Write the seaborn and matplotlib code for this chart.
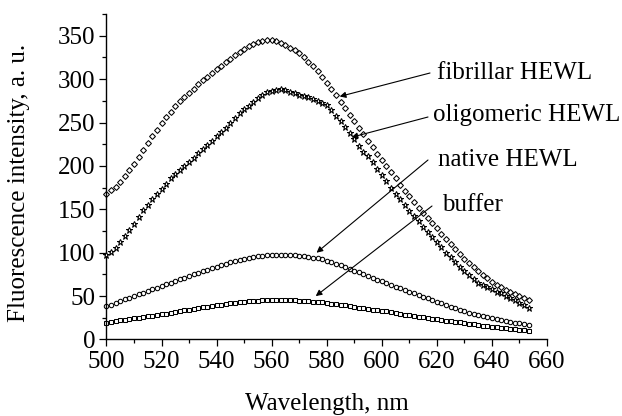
import numpy as np
import pandas as pd
import matplotlib
matplotlib.use("Agg")
import matplotlib.pyplot as plt
import seaborn as sns
from matplotlib.ticker import MultipleLocator

# wavelength grid of the spectra (nm)
start_nm = 500.0
step_nm = 5.0 / 3.0

fibrillar = [168, 172, 176, 181, 188, 195, 202, 210, 218, 226.5, 234, 241.5,
             249, 256, 262.5, 269, 274.5, 279.5, 284.5, 289, 294, 298.5, 303, 307.5,
             311.6, 315.5, 319.5, 323.5, 327.5, 331, 334.7, 337.8, 340.5, 342.8, 344.3, 345.2,
             345.2, 344, 341.8, 339, 336, 333, 329.7, 325, 320, 315, 309, 302.5,
             296, 289, 281.5, 274, 266.5, 259, 251.5, 244, 236.5, 229, 221.5, 214,
             206.8, 199.5, 192.5, 185.5, 178.5, 171.5, 165, 158.5, 152, 146, 140, 134,
             128, 122, 116, 110.5, 104.5, 98.5, 93, 88, 83.3, 78.7, 74.5, 70.5,
             66.5, 63.3, 60.3, 57.5, 55, 52.8, 50.5, 48, 45.5]

oligomeric = [97, 101, 105.5, 112.5, 119, 126, 133, 141, 149, 155.5, 162, 168,
              173.5, 179.5, 185.5, 190.5, 195.5, 200, 205, 209.3, 214.5, 219.8, 224.5, 229,
              234, 238.7, 243.7, 249.5, 255, 260.5, 265.5, 269.5, 274, 278, 282, 284.7,
              286, 287.5, 288.2, 287.6, 285.5, 283.6, 281.8, 280.7, 279, 276.6, 275, 273,
              270, 264.5, 258, 252, 244.5, 237.5, 231, 223, 216.5, 211, 204, 197,
              189.5, 183, 175, 168, 161.5, 155, 148.5, 142.5, 136, 130, 124, 118,
              112, 106, 99.5, 94.5, 89, 84, 79, 74, 69.5, 65.5, 62.5, 60,
              58, 55, 53, 50.5, 48, 45.5, 42.3, 40, 36.5]

native = [38.4, 40.3, 42.2, 44.1, 46.1, 48, 50, 52, 53.9, 55.8, 57.7, 59.6,
          61.5, 63.4, 65.3, 67.2, 69.2, 71.1, 73, 74.9, 76.8, 78.6, 80.3, 82.1,
          83.8, 85.5, 87.2, 88.8, 90.2, 91.6, 92.8, 94, 95, 95.8, 96.5, 97,
          97.3, 97.5, 97.6, 97.5, 97.2, 96.9, 96.4, 95.8, 95.2, 94.4, 93.4, 92.3,
          91, 89.3, 87.5, 85.6, 83.6, 81.4, 79.2, 77.2, 75.2, 73.2, 71.1, 69.1,
          67, 65, 63, 61, 59, 57, 55, 53, 51.1, 49.2, 47.3, 45.4,
          43.5, 41.6, 39.7, 37.9, 36, 34.2, 32.5, 31, 29.6, 28.3, 27, 25.7,
          24.5, 23.5, 22.5, 21.4, 20.4, 19.4, 18.5, 17.6, 16.8]

buffer = [19.4, 20.2, 21, 21.9, 22.7, 23.6, 24.4, 25.2, 26, 26.7, 27.5, 28.2,
          29, 29.9, 30.8, 31.7, 32.6, 33.5, 34.5, 35.4, 36.3, 37.1, 37.9, 38.7,
          39.5, 40.3, 41, 41.7, 42.4, 43, 43.6, 44.1, 44.5, 44.8, 45.1, 45.2,
          45.3, 45.3, 45.3, 45.2, 45.1, 45, 44.8, 44.5, 44.1, 43.7, 43.3, 42.7,
          42.1, 41.4, 40.7, 40, 39.2, 38.4, 37.6, 36.8, 36, 35.2, 34.4, 33.8,
          33.2, 32.3, 31.4, 30.5, 29.6, 28.8, 28, 27.1, 26.3, 25.5, 24.7, 24,
          23.3, 22.5, 21.8, 21, 20.3, 19.6, 18.9, 18.2, 17.5, 16.8, 16.1, 15.4,
          14.8, 14.2, 13.6, 13, 12.4, 11.8, 11.2, 10.6, 10]

sample_names = ["fibrillar HEWL", "oligomeric HEWL", "native HEWL", "buffer"]
sample_values = [fibrillar, oligomeric, native, buffer]

frames = []
for name, vals in zip(sample_names, sample_values):
    wl = start_nm + step_nm * np.arange(len(vals))
    frames.append(pd.DataFrame({"wavelength": wl, "intensity": vals, "sample": name}))
df = pd.concat(frames, ignore_index=True)

marker_styles = {
    "fibrillar HEWL": dict(marker="D", markersize=3.0, markerfacecolor="none"),
    "oligomeric HEWL": dict(marker="*", markersize=5.0, markerfacecolor="white"),
    "native HEWL": dict(marker="o", markersize=3.2, markerfacecolor="none"),
    "buffer": dict(marker="s", markersize=2.9, markerfacecolor="none"),
}

sns.set_theme(style="ticks")
plt.rcParams["font.family"] = ["Liberation Serif", "DejaVu Serif"]
plt.rcParams["axes.edgecolor"] = "black"
plt.rcParams["xtick.color"] = "black"
plt.rcParams["ytick.color"] = "black"

fig = plt.figure(figsize=(6.22, 4.16), dpi=100)
ax = fig.add_axes([0.1712, 0.1839, 0.7082, 0.7824])

for name in sample_names:
    sub = df[df["sample"] == name]
    sns.lineplot(data=sub, x="wavelength", y="intensity", ax=ax,
                 color="black", linestyle="none", markeredgecolor="black",
                 markeredgewidth=0.75, clip_on=False, estimator=None,
                 errorbar=None, sort=False, legend=False, zorder=3,
                 **marker_styles[name])

ax.set_xlim(500, 660)
ax.set_ylim(0, 375)
ax.xaxis.set_major_locator(MultipleLocator(20))
ax.xaxis.set_minor_locator(MultipleLocator(10))
ax.yaxis.set_major_locator(MultipleLocator(50))
ax.yaxis.set_minor_locator(MultipleLocator(25))
ax.tick_params(which="major", direction="out", length=5, width=0.9,
               labelsize=18, pad=3, colors="black")
ax.tick_params(which="minor", direction="out", length=3, width=0.9)
sns.despine(ax=ax)
for sp in ("left", "bottom"):
    ax.spines[sp].set_linewidth(1.0)
    ax.spines[sp].set_color("black")

ax.set_xlabel("Wavelength, nm", fontsize=18, color="black")
ax.set_ylabel("Fluorescence intensity, a. u.", fontsize=18, color="black")
ax.xaxis.set_label_coords(0.5, -0.198)
ax.xaxis.label.set_va("center")
ax.yaxis.set_label_coords(-0.199, 0.48)
ax.yaxis.label.set_va("center")

W, H = 622.0, 416.0
labels = [
    ("fibrillar HEWL", 437, 73, 430, 73, 584.7, 280),
    ("oligomeric HEWL", 433, 115, 428, 117, 589.0, 233),
    ("native HEWL", 438, 160, 428, 160, 576.3, 100),
    ("buffer", 442, 205, 432, 206, 576.0, 50),
]
for text, tx, ty, sx, sy, px, py in labels:
    fig.text(tx / W, 1 - ty / H, text, fontsize=18, ha="left", va="center",
             color="black")
    ax.annotate("", xy=(px, py), xycoords="data",
                xytext=(sx / W, 1 - sy / H), textcoords="figure fraction",
                arrowprops=dict(arrowstyle="-|>", color="black", lw=0.8,
                                mutation_scale=9, shrinkA=0, shrinkB=0),
                annotation_clip=False)

fig.savefig("out.png", dpi=100)
